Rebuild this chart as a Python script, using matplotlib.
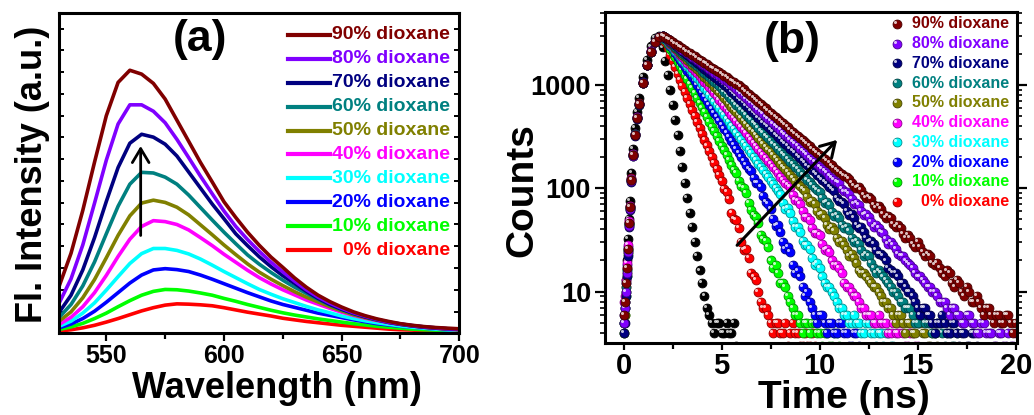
import matplotlib.pyplot as plt
import matplotlib.ticker as mticker
from matplotlib.colors import to_rgb
from matplotlib.transforms import ScaledTranslation

plt.rcParams['font.family'] = ['Liberation Sans', 'DejaVu Sans']
plt.rcParams['font.weight'] = 'bold'
plt.rcParams['axes.labelweight'] = 'bold'

# ---------------- panel (a): emission spectra (a.u.) ----------------
wavelength = [530, 535, 540, 545, 550, 555, 560, 565, 570, 575, 580, 585, 590, 595, 600,
              605, 610, 615, 620, 625, 630, 635, 640, 645, 650, 655, 660, 665, 670, 675,
              680, 685, 690, 695, 700]
spec_0 = [7, 11, 17, 25, 35, 46, 58, 70, 80, 88, 92, 91, 89, 86, 80,
          73, 66, 60, 54, 47, 42, 37, 33, 29, 25, 22, 19, 16, 13, 11, 10, 8, 7, 6, 5]
spec_10 = [12, 20, 31, 46, 63, 83, 102, 119, 131, 137, 136, 132, 126, 119, 109,
           100, 90, 81, 72, 64, 57, 51, 45, 40, 35, 30, 26, 22, 19, 16, 13, 11, 10, 8, 7]
spec_20 = [17, 29, 46, 69, 97, 127, 157, 182, 198, 202, 199, 193, 182, 169, 155,
           141, 127, 114, 101, 90, 81, 72, 63, 56, 49, 42, 36, 30, 26, 22, 19, 16, 13, 11, 9]
spec_30 = [22, 38, 63, 95, 135, 177, 218, 249, 265, 265, 259, 248, 232, 213, 193,
           174, 155, 137, 122, 108, 96, 84, 73, 64, 54, 46, 39, 33, 28, 23, 19, 16, 13, 11, 9]
spec_40 = [28, 50, 83, 127, 181, 240, 294, 334, 352, 349, 340, 323, 299, 274, 247,
           222, 197, 174, 154, 136, 120, 104, 91, 78, 66, 56, 47, 40, 33, 28, 23, 19, 16, 13, 11]
spec_50 = [38, 67, 111, 168, 236, 306, 367, 407, 416, 409, 394, 370, 339, 308, 276,
           246, 217, 191, 169, 149, 130, 113, 98, 83, 70, 58, 49, 41, 34, 28, 23, 19, 16, 13, 11]
spec_60 = [50, 90, 148, 223, 311, 397, 466, 503, 501, 488, 466, 432, 393, 354, 316,
           280, 245, 216, 190, 166, 144, 125, 106, 89, 74, 62, 52, 43, 35, 29, 24, 20, 17, 14, 12]
spec_70 = [66, 119, 198, 299, 412, 518, 594, 622, 613, 591, 554, 504, 454, 404, 358,
           311, 274, 239, 208, 180, 156, 131, 109, 90, 75, 62, 51, 42, 34, 28, 23, 19, 16, 14, 12]
spec_80 = [95, 170, 276, 407, 541, 654, 714, 714, 694, 658, 606, 549, 491, 436, 382,
           334, 293, 256, 222, 192, 163, 136, 113, 94, 78, 64, 53, 43, 35, 29, 24, 20, 17, 14, 13]
spec_90 = [148, 250, 384, 535, 680, 784, 822, 810, 781, 732, 666, 600, 534, 473, 411,
           362, 316, 275, 238, 206, 173, 144, 119, 99, 82, 67, 55, 45, 37, 30, 25, 21, 18, 16, 14]

# ---------------- panel (b): decay curves (counts) ----------------
time_ns = [0.0, 0.05, 0.1, 0.15, 0.2, 0.25, 0.3, 0.4, 0.5, 0.6, 0.7, 0.8, 1.0, 1.2, 1.4, 1.6, 1.8,
           2.0, 2.125, 2.25, 2.375, 2.5, 2.625, 2.75, 2.875,
           3.0, 3.125, 3.25, 3.375, 3.5, 3.625, 3.75, 3.875,
           4.0, 4.125, 4.25, 4.375, 4.5, 4.625, 4.75, 4.875,
           5.0, 5.125, 5.25, 5.375, 5.5, 5.625, 5.75, 5.875,
           6.0, 6.125, 6.25, 6.375, 6.5, 6.625, 6.75, 6.875,
           7.0, 7.125, 7.25, 7.375, 7.5, 7.625, 7.75, 7.875,
           8.0, 8.125, 8.25, 8.375, 8.5, 8.625, 8.75, 8.875,
           9.0, 9.125, 9.25, 9.375, 9.5, 9.625, 9.75, 9.875,
           10.0, 10.125, 10.25, 10.375, 10.5, 10.625, 10.75, 10.875,
           11.0, 11.125, 11.25, 11.375, 11.5, 11.625, 11.75, 11.875,
           12.0, 12.125, 12.25, 12.375, 12.5, 12.625, 12.75, 12.875,
           13.0, 13.125, 13.25, 13.375, 13.5, 13.625, 13.75, 13.875,
           14.0, 14.125, 14.25, 14.375, 14.5, 14.625, 14.75, 14.875,
           15.0, 15.125, 15.25, 15.375, 15.5, 15.625, 15.75, 15.875,
           16.0, 16.125, 16.25, 16.375, 16.5, 16.625, 16.75, 16.875,
           17.0, 17.125, 17.25, 17.375, 17.5, 17.625, 17.75, 17.875,
           18.0, 18.125, 18.25, 18.375, 18.5, 18.625, 18.75, 18.875,
           19.0, 19.125, 19.25, 19.375, 19.5, 19.625, 19.75, 19.875, 20.0]
counts_irf = [5, 8, 13, 20, 32, 50, 75, 140, 240, 380, 550, 750, 1200, 1750, 2350, 2850, 3000,
              2300, 1700, 1250, 890, 640, 460, 330, 230, 160, 113, 80, 58, 42, 30, 22, 16, 12, 9,
              7, 6, 5, 4, 5, 5, 4, 4, 5, 4, 4, 5, 3]
counts_0 = [5, 7, 11, 17, 26, 47, 68, 125, 215, 335, 490, 660, 1060, 1560, 2110, 2610, 2900,
            3000, 2600, 2260, 1960, 1700, 1475, 1280, 1115, 970, 849, 743, 651, 571, 500, 439, 385,
            337, 295, 259, 227, 199, 174, 153, 134, 117, 98, 92, 79, 58, 50, 49, 41, 30, 25, 26, 21,
            15, 14, 13, 10, 8, 7, 7, 6, 5, 4, 5, 5, 4, 4, 5, 3, 4, 5, 4, 4, 3, 3, 4, 3, 3, 4, 3]
counts_10 = [4, 6, 9, 14, 23, 44, 63, 118, 205, 325, 475, 645, 1040, 1540, 2090, 2590, 2890,
             3000, 2720, 2470, 2240, 2030, 1840, 1670, 1520, 1380, 1250, 1130, 1020, 926, 832, 748,
             672, 604, 544, 489, 440, 395, 355, 319, 287, 258, 232, 208, 187, 168, 151, 140, 118, 104,
             100, 90, 72, 61, 55, 53, 46, 35, 32, 31, 27, 20, 17, 18, 15, 12, 12, 11, 9, 8, 7, 6, 6, 5,
             4, 5, 5, 4, 5, 5, 4, 4, 3, 4, 4, 3, 3, 4, 4, 3]
counts_20 = [6, 8, 12, 18, 27, 46, 66, 122, 212, 332, 485, 655, 1055, 1555, 2105, 2605, 2905,
             3000, 2780, 2570, 2380, 2200, 2035, 1880, 1740, 1610, 1490, 1375, 1275, 1180, 1090, 1005,
             920, 843, 771, 705, 645, 590, 540, 494, 452, 413, 378, 346, 316, 289, 264, 242, 221, 202,
             185, 169, 155, 146, 126, 113, 112, 103, 85, 73, 70, 63, 50, 43, 44, 38, 30, 26, 27, 24,
             18, 15, 16, 14, 11, 9, 10, 8, 7, 6, 5, 6, 6, 5, 4, 5, 5, 4, 4, 5, 5, 4, 4, 3, 3, 4, 4, 3]
counts_30 = [5, 7, 10, 16, 25, 45, 64, 119, 208, 328, 478, 648, 1045, 1545, 2095, 2595, 2895,
             3000, 2800, 2620, 2450, 2290, 2140, 2000, 1865, 1740, 1625, 1520, 1420, 1330, 1240, 1160,
             1080, 1010, 937, 869, 805, 745, 690, 639, 592, 548, 508, 470, 435, 403, 373, 346, 320,
             296, 274, 254, 235, 218, 202, 187, 173, 160, 149, 138, 128, 118, 109, 101, 95, 87, 72,
             63, 64, 58, 48, 42, 42, 38, 31, 28, 28, 26, 21, 18, 19, 17, 14, 12, 11, 11, 10, 9, 8, 7,
             7, 6, 6, 5, 5, 6, 5, 5, 4, 4, 5, 5, 4, 4, 3, 4, 4, 3, 4, 4, 3, 3]
counts_40 = [8, 9, 13, 19, 28, 48, 67, 123, 213, 333, 486, 656, 1052, 1552, 2102, 2602, 2902,
             3000, 2810, 2660, 2505, 2360, 2220, 2090, 1965, 1850, 1740, 1640, 1545, 1460, 1370, 1290,
             1210, 1140, 1070, 1010, 946, 886, 827, 772, 721, 673, 628, 587, 548, 511, 477, 446, 416,
             388, 363, 339, 316, 295, 275, 257, 240, 224, 209, 195, 183, 171, 160, 149, 139, 129, 121,
             113, 108, 102, 86, 77, 76, 71, 60, 53, 53, 49, 41, 37, 37, 35, 29, 25, 26, 24, 20, 18, 18,
             17, 15, 12, 11, 11, 10, 9, 9, 8, 7, 7, 6, 6, 6, 5, 5, 6, 5, 5, 5, 4, 4, 5, 4, 4, 5, 4, 3,
             3, 4, 4, 3, 3]
counts_50 = [4, 6, 10, 15, 24, 45, 65, 120, 210, 330, 480, 650, 1050, 1550, 2100, 2600, 2900,
             3000, 2840, 2690, 2550, 2420, 2290, 2170, 2055, 1950, 1845, 1750, 1660, 1570, 1490, 1410,
             1335, 1260, 1195, 1130, 1075, 1020, 958, 899, 844, 792, 744, 698, 655, 615, 577, 541, 508,
             477, 448, 420, 394, 370, 347, 326, 306, 287, 269, 253, 237, 223, 209, 196, 184, 173, 162,
             152, 143, 134, 126, 118, 111, 104, 99, 94, 82, 74, 75, 70, 60, 55, 56, 52, 44, 40, 42, 39,
             33, 30, 31, 28, 25, 22, 23, 21, 19, 16, 15, 15, 14, 13, 12, 11, 11, 10, 9, 8, 8, 7, 7, 6,
             5, 6, 6, 5, 4, 5, 5, 4, 4, 5, 5, 4, 4, 3, 3, 4, 4, 3]
counts_60 = [5, 7, 11, 16, 25, 45, 66, 121, 211, 331, 482, 652, 1048, 1548, 2098, 2598, 2898,
             3000, 2860, 2720, 2590, 2460, 2340, 2230, 2125, 2020, 1930, 1840, 1750, 1660, 1585, 1510,
             1440, 1370, 1305, 1240, 1180, 1120, 1070, 1020, 965, 912, 860, 812, 766, 723, 682, 644,
             608, 574, 542, 511, 483, 456, 430, 406, 383, 361, 341, 322, 304, 287, 271, 256, 242, 228,
             215, 203, 192, 181, 171, 161, 152, 143, 135, 128, 121, 114, 107, 101, 97, 92, 80, 72, 74,
             69, 59, 54, 55, 52, 44, 41, 42, 39, 33, 30, 31, 29, 25, 22, 23, 22, 19, 17, 15, 16, 15,
             14, 13, 12, 11, 10, 10, 9, 8, 8, 7, 7, 7, 6, 5, 5, 6, 6, 5, 5, 5, 4, 4, 5, 5, 4, 3, 4, 4,
             3, 3, 4]
counts_70 = [4, 5, 9, 14, 22, 42, 62, 116, 205, 322, 472, 642, 1040, 1540, 2090, 2590, 2890,
             3000, 2870, 2750, 2630, 2520, 2410, 2310, 2215, 2120, 2030, 1940, 1860, 1780, 1705, 1630,
             1560, 1490, 1430, 1370, 1310, 1250, 1200, 1150, 1100, 1050, 1003, 959, 909, 861, 817, 775,
             735, 697, 661, 627, 595, 564, 535, 507, 481, 456, 432, 410, 389, 369, 349, 331, 314, 298,
             283, 268, 254, 241, 229, 217, 206, 195, 185, 175, 166, 157, 149, 142, 135, 127, 121, 115,
             109, 103, 99, 94, 81, 75, 74, 70, 60, 55, 56, 52, 44, 41, 42, 38, 33, 30, 31, 29, 25, 23,
             23, 22, 20, 17, 16, 15, 15, 14, 12, 12, 11, 10, 10, 9, 8, 7, 6, 7, 7, 6, 6, 5, 4, 5, 5, 6,
             5, 4, 4, 5, 5, 4, 3, 4, 4, 3, 3, 4, 4, 3]
counts_80 = [5, 7, 10, 15, 24, 43, 63, 118, 207, 327, 477, 647, 1045, 1545, 2095, 2595, 2895,
             3000, 2885, 2770, 2665, 2560, 2465, 2370, 2280, 2190, 2110, 2030, 1950, 1870, 1800, 1730,
             1665, 1600, 1540, 1480, 1425, 1370, 1315, 1260, 1215, 1170, 1125, 1080, 1040, 1000, 951,
             904, 859, 817, 776, 738, 702, 667, 634, 603, 573, 545, 518, 492, 468, 445, 423, 402, 382,
             363, 345, 328, 311, 296, 282, 268, 255, 242, 230, 219, 208, 198, 188, 179, 170, 161, 153,
             146, 139, 132, 125, 119, 115, 112, 99, 93, 92, 88, 78, 71, 72, 69, 60, 55, 56, 53, 47, 42,
             44, 41, 38, 37, 32, 29, 30, 28, 26, 23, 22, 22, 20, 19, 18, 17, 15, 14, 14, 13, 12, 11,
             11, 10, 10, 9, 8, 8, 8, 7, 6, 7, 7, 6, 6, 5, 5, 6, 6, 5, 5, 4, 4, 5, 5, 4, 4, 4, 3, 3, 4,
             4, 3, 3, 4, 3, 3, 4]
counts_90 = [6, 8, 12, 17, 26, 46, 66, 120, 210, 330, 480, 650, 1050, 1550, 2100, 2600, 2900,
             3000, 2895, 2790, 2695, 2600, 2510, 2420, 2335, 2250, 2175, 2100, 2025, 1950, 1885, 1820,
             1755, 1690, 1635, 1580, 1525, 1470, 1420, 1370, 1320, 1270, 1230, 1190, 1145, 1100, 1065,
             1030, 987, 945, 902, 860, 821, 783, 748, 713, 680, 649, 619, 591, 564, 538, 513, 490, 467,
             446, 426, 406, 388, 369, 352, 336, 321, 306, 292, 279, 266, 254, 242, 231, 220, 210, 200,
             191, 182, 174, 166, 158, 151, 144, 137, 131, 128, 124, 112, 105, 101, 102, 97, 86, 80, 83,
             78, 69, 65, 67, 63, 56, 52, 54, 51, 45, 42, 44, 41, 36, 33, 35, 33, 29, 27, 30, 27, 24, 22,
             23, 22, 19, 18, 19, 17, 15, 14, 16, 15, 12, 11, 13, 12, 10, 9, 11, 10, 8, 8, 9, 8, 7, 6,
             7, 7, 6, 5, 6, 6, 5, 5, 6, 6, 5, 4, 5]

labels = ['0% dioxane', '10% dioxane', '20% dioxane', '30% dioxane', '40% dioxane',
          '50% dioxane', '60% dioxane', '70% dioxane', '80% dioxane', '90% dioxane']
colors = ['#ff0000', '#00ff00', '#0000ff', '#00ffff', '#ff00ff',
          '#808000', '#008080', '#000080', '#8000ff', '#800000']

spectra = [spec_0, spec_10, spec_20, spec_30, spec_40, spec_50, spec_60, spec_70, spec_80, spec_90]
decays = [counts_0, counts_10, counts_20, counts_30, counts_40,
          counts_50, counts_60, counts_70, counts_80, counts_90]

fig = plt.figure(figsize=(10.34, 4.15), dpi=100)
axA = fig.add_axes([0.0573, 0.1969, 0.3869, 0.771])
axB = fig.add_axes([0.5851, 0.1728, 0.3982, 0.799])
arrow_style = '->,head_length=0.5,head_width=0.3'
bead_ms = 6.4

# ---------------- draw (a) ----------------
for spec, col in zip(spectra, colors):
    axA.plot(wavelength, spec, color=col, lw=2.6)

axA.set_xlim(530, 700)
axA.set_ylim(0, 1000)
axA.xaxis.set_major_locator(mticker.FixedLocator([550, 600, 650, 700]))
axA.xaxis.set_minor_locator(mticker.FixedLocator([575, 625, 675]))
axA.yaxis.set_major_locator(mticker.MultipleLocator(68))
axA.tick_params(axis='x', which='major', direction='out', length=6, width=1.6, labelsize=18, pad=2)
axA.tick_params(axis='x', which='minor', direction='out', length=4.5, width=1.6)
axA.tick_params(axis='y', which='major', direction='in', length=3.5, width=1.4,
                left=True, right=True, labelleft=False)
for sp in axA.spines.values():
    sp.set_linewidth(2.2)

axA.set_xlabel('Wavelength (nm)', fontsize=26, fontweight='bold', va='center')
axA.xaxis.set_label_coords(0.543, -0.174)
axA.set_ylabel('Fl. Intensity (a.u.)', fontsize=26, fontweight='bold', va='center')
axA.yaxis.set_label_coords(-0.068, 0.498)

# legend (a), drawn by hand so text is right aligned
for i, (lab, col) in enumerate(zip(labels, colors)):
    y = 0.260 + 0.0747 * i
    axA.plot([0.572, 0.677], [y, y], transform=axA.transAxes, color=col, lw=3)
    axA.text(0.977, y, lab, transform=axA.transAxes, color=col, fontsize=14,
             fontweight='bold', ha='right', va='center')

axA.annotate('', xy=(564.6, 594), xytext=(564.6, 297),
             arrowprops=dict(arrowstyle=arrow_style, mutation_scale=20, lw=2, color='black'))
axA.text(0.352, 0.917, '(a)', transform=axA.transAxes, fontsize=32, fontweight='bold',
         ha='center', va='center')

# ---------------- draw (b) ----------------
axB.set_yscale('log')
shine_data = axB.transData + ScaledTranslation(-1.4 / 72, 1.4 / 72, fig.dpi_scale_trans)
shine_axes = axB.transAxes + ScaledTranslation(-1.4 / 72, 1.4 / 72, fig.dpi_scale_trans)


def beads(cnt, col):
    t = time_ns[:len(cnt)]
    dark = tuple(0.55 * v for v in to_rgb(col))
    axB.plot(t, cnt, 'o', ls='none', ms=bead_ms, mfc=col, mec=dark, mew=0.6)
    axB.plot(t, cnt, 'o', ls='none', ms=2.2, mfc='white', mec='none', alpha=0.75,
             transform=shine_data)


beads(counts_irf, '#000000')
for cnt, col in zip(decays, colors):
    beads(cnt, col)

axB.set_xlim(-0.95, 20.05)
axB.set_ylim(3.16, 5100)
axB.xaxis.set_major_locator(mticker.MultipleLocator(5))
axB.xaxis.set_minor_locator(mticker.MultipleLocator(2.5))
axB.yaxis.set_major_locator(mticker.FixedLocator([10, 100, 1000]))
axB.yaxis.set_minor_locator(mticker.LogLocator(base=10, subs=range(2, 10)))
axB.yaxis.set_major_formatter(mticker.FuncFormatter(lambda v, p: f'{v:g}'))
axB.yaxis.set_minor_formatter(mticker.NullFormatter())
axB.tick_params(axis='x', which='major', direction='out', length=5, width=1.6, labelsize=21, pad=1)
axB.tick_params(axis='x', which='minor', direction='out', length=4, width=1.6)
axB.tick_params(axis='y', which='major', direction='out', length=7, width=1.6, labelsize=19.5,
                pad=3, right=True)
axB.tick_params(axis='y', which='minor', direction='out', length=3.5, width=1.2, right=True)
for sp in axB.spines.values():
    sp.set_linewidth(2.2)

axB.set_xlabel('Time (ns)', fontsize=28, fontweight='bold', va='center')
axB.xaxis.set_label_coords(0.579, -0.165)
axB.set_ylabel('Counts', fontsize=28, fontweight='bold', va='center')
axB.yaxis.set_label_coords(-0.2016, 0.461)

for i, (lab, col) in enumerate(zip(labels, colors)):
    y = 0.427 + 0.0596 * i
    dark = tuple(0.55 * v for v in to_rgb(col))
    axB.plot([0.709], [y], 'o', transform=axB.transAxes, ms=bead_ms, mfc=col, mec=dark, mew=0.6)
    axB.plot([0.709], [y], 'o', transform=shine_axes, ms=2.2, mfc='white', mec='none', alpha=0.75)
    axB.text(0.981, y, lab, transform=axB.transAxes, color=col, fontsize=11.5,
             fontweight='bold', ha='right', va='center')

axB.annotate('', xy=(10.99, 307), xytext=(5.69, 26.8),
             arrowprops=dict(arrowstyle=arrow_style, mutation_scale=20, lw=2.2, color='black'))
axB.text(0.454, 0.909, '(b)', transform=axB.transAxes, fontsize=32, fontweight='bold',
         ha='center', va='center')

fig.savefig('out.png', dpi=100)
